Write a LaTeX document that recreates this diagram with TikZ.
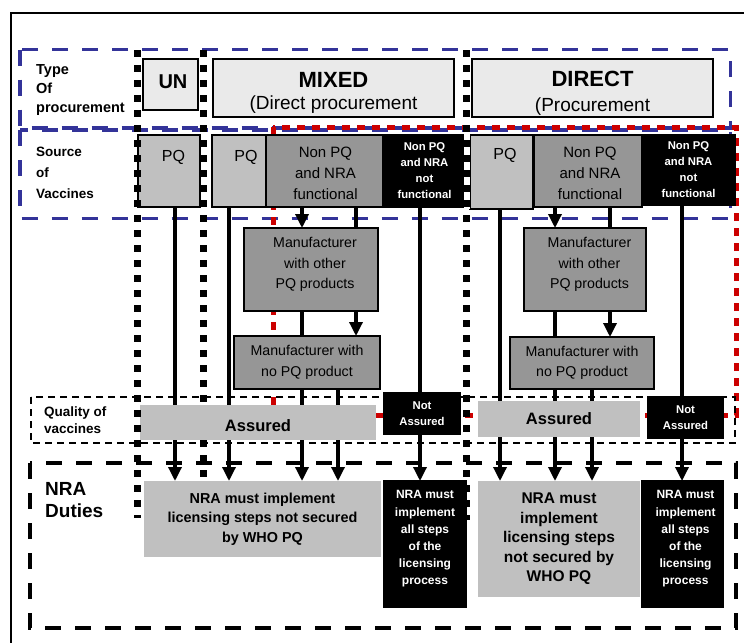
\documentclass[tikz,border=0pt]{standalone}
\usepackage{fontspec}
\setmainfont{Liberation Sans}
\usetikzlibrary{arrows.meta,positioning,backgrounds}
\definecolor{boxlight}{HTML}{EAEAEA}
\definecolor{boxmid}{HTML}{C0C0C0}
\definecolor{boxdark}{HTML}{969696}
\definecolor{zoneblue}{HTML}{333399}
\definecolor{zonered}{HTML}{CC0000}
\tikzset{
    cell/.style={
           rectangle,
           draw=black, line width=1.8pt,
           anchor=north west,
           inner sep=0pt, outer sep=0pt,
           align=center,
           },
    typebox/.style={cell, fill=boxlight, line width=1.5pt},
    pqbox/.style={cell, fill=boxmid},
    nonpqbox/.style={cell, fill=boxdark, font=\fontsize{15}{21}\selectfont},
    blackbox/.style={cell, fill=black, text=white,
           font=\bfseries\fontsize{11.3}{16}\selectfont},
    mfbox/.style={cell, fill=boxdark, font=\fontsize{14.2}{20.5}\selectfont},
    assured/.style={cell, draw=none, fill=boxmid,
           font=\bfseries\fontsize{16.5}{18}\selectfont},
    nrabox/.style={cell, draw=none, fill=boxmid},
    celltext/.style={align=center, inner sep=0pt},
    rowlabel/.style={anchor=west, align=left, inner sep=0pt},
    pqtext/.style={anchor=north, inner sep=0pt, font=\fontsize{16}{18}\selectfont},
    flow/.style={line width=3.3pt, -{Triangle[width=13pt,length=14pt]}},
    bluezone/.style={draw=zoneblue, line width=3.3pt, dash pattern=on 16pt off 14pt},
    redzone/.style={draw=zonered, line width=5pt, dash pattern=on 8pt off 7pt},
    qualzone/.style={draw=black, line width=2pt, dash pattern=on 7pt off 5pt},
    nrazone/.style={draw=black, line width=4pt, dash pattern=on 16pt off 14pt},
    colsep/.style={line width=7pt, dash pattern=on 7pt off 8pt},
}

\begin{document}
\begin{tikzpicture}[x=1pt,y=-1pt]
\useasboundingbox (0,0) rectangle (744,643);

 % outer frame (runs off the right and bottom edge)
 \draw[line width=2pt] (744,13) -- (10.5,13) -- (10.5,643);

 % row labels
 \node[rowlabel, font=\bfseries\fontsize{14.5}{19}\selectfont] (lblType) at (36,90)
 {Type\\Of\\procurement};
 \node[rowlabel, font=\bfseries\fontsize{13.5}{21}\selectfont] (lblSource) at (36,173)
 {Source\\of\\Vaccines};
 \node[rowlabel, font=\bfseries\fontsize{13.5}{17}\selectfont] (lblQuality) at (44,420.5)
 {Quality of\\vaccines};
 \node[rowlabel, font=\bfseries\fontsize{19}{22}\selectfont] (lblNRA) at (45,500)
 {NRA\\Duties};

 % type of procurement
 \node[typebox, minimum width=55pt, minimum height=51pt,
 label={[celltext, xshift=2.5pt, yshift=3pt, font=\bfseries\fontsize{20}{22}\selectfont]center:UN}]
 (unType) at (143,59) {};
 \node[typebox, minimum width=241pt, minimum height=58pt,
 label={[celltext, yshift=-5pt, font=\fontsize{19}{22}\selectfont]center:{{\bfseries\fontsize{22}{22}\selectfont MIXED}\\(Direct procurement}}]
 (mixType) at (213,59) {};
 \node[typebox, minimum width=241pt, minimum height=58pt,
 label={[celltext, yshift=-5pt, font=\fontsize{19}{25}\selectfont]center:{{\bfseries\fontsize{22}{22}\selectfont DIRECT}\\(Procurement}}]
 (dirType) at (472,59) {};

 % source of vaccines
 \node[pqbox, minimum width=62pt, minimum height=72pt,
 label={[pqtext, xshift=4.5pt, yshift=-15pt]north:PQ}] (unPQ) at (138,135) {};
 \node[pqbox, minimum width=54pt, minimum height=72pt,
 label={[pqtext, xshift=7pt, yshift=-15pt]north:PQ}] (mixPQ) at (212,135) {};
 \node[nonpqbox, minimum width=117pt, minimum height=72pt,
 label={[celltext, xshift=1pt, yshift=-2pt, font=\fontsize{15}{21}\selectfont]center:{Non PQ\\and NRA\\functional}}]
 (mixNF) at (266,135) {};
 \node[blackbox, minimum width=83pt, minimum height=72pt] (mixNN) at (383,135)
 {Non PQ\\and NRA\\not\\functional};
 \node[pqbox, minimum width=63pt, minimum height=74pt,
 label={[pqtext, xshift=3.5pt, yshift=-13pt]north:PQ}] (dirPQ) at (470,135) {};
 \node[nonpqbox, minimum width=108pt, minimum height=72pt,
 label={[celltext, xshift=2pt, yshift=-2pt, font=\fontsize{15}{21}\selectfont]center:{Non PQ\\and NRA\\functional}}]
 (dirNF) at (534,135) {};
 \node[blackbox, minimum width=93pt, minimum height=70pt] (dirNN) at (642,135)
 {Non PQ\\and NRA\\not\\functional};

 % manufacturers
 \node[mfbox, minimum width=134pt, minimum height=83pt,
 label={[celltext, xshift=4pt, yshift=5pt, font=\fontsize{14.2}{20.5}\selectfont]center:{Manufacturer\\with other\\PQ products}}]
 (mixM1) at (244,228) {};
 \node[mfbox, minimum width=146pt, minimum height=53pt] (mixM2) at (234,336)
 {Manufacturer with\\no PQ product};
 \node[mfbox, minimum width=122pt, minimum height=83pt,
 label={[celltext, xshift=4.5pt, yshift=5pt, font=\fontsize{14.2}{20.5}\selectfont]center:{Manufacturer\\with other\\PQ products}}]
 (dirM1) at (524,228) {};
 \node[mfbox, minimum width=144pt, minimum height=52pt] (dirM2) at (510,337)
 {Manufacturer with\\no PQ product};

 % quality of vaccines
 \node[assured, minimum width=236pt, minimum height=35pt,
 label={[celltext, yshift=-3.5pt, font=\bfseries\fontsize{16.5}{18}\selectfont]center:Assured}]
 (mixAS) at (140,405) {};
 \node[blackbox, minimum width=76pt, minimum height=41pt] (mixNA) at (384,393) {Not\\Assured};
 \node[assured, minimum width=162pt, minimum height=36pt] (dirAS) at (478,401) {Assured};
 \node[blackbox, minimum width=75pt, minimum height=41pt] (dirNA) at (648,397) {Not\\Assured};

 % NRA duties
 \node[nrabox, minimum width=237pt, minimum height=76pt,
 font=\bfseries\fontsize{14.4}{19.5}\selectfont] (mixNRA) at (144,481)
 {NRA must implement\\licensing steps not secured\\by WHO PQ};
 \node[blackbox, minimum width=82pt, minimum height=126pt,
 label={[celltext, yshift=5pt, text=white, font=\bfseries\fontsize{12}{17.2}\selectfont]center:{NRA must\\implement\\all steps\\of the\\licensing\\process}}]
 (mixNB) at (384,481) {};
 \node[nrabox, minimum width=162pt, minimum height=116pt,
 font=\bfseries\fontsize{15.5}{19.5}\selectfont] (dirNRA) at (478,481)
 {NRA must\\implement\\licensing steps\\not secured by\\WHO PQ};
 \node[blackbox, minimum width=81pt, minimum height=126pt,
 label={[celltext, xshift=3pt, yshift=5pt, text=white, font=\bfseries\fontsize{12}{17.2}\selectfont]center:{NRA must\\implement\\all steps\\of the\\licensing\\process}}]
 (dirNB) at (642,481) {};

 \begin{pgfonlayer}{background}
  % dashed zones
  \draw[bluezone] (20,49.5) rectangle (730.5,128);
  \draw[bluezone] (20,130) rectangle (730.5,218.5);
  \draw[redzone] (273,127) rectangle (736,415);
  \draw[qualzone] (31,397) rectangle (735,443);
  \draw[nrazone] (30,463) rectangle (736,628);
  \draw[colsep] (203,50) -- (203,480);

  % flows, partly hidden behind the boxes
  \draw[flow] ([xshift=6pt]unPQ.south) -- ([xshift=6pt]unPQ.south |- mixNRA.north);
  \draw[flow] ([xshift=-10pt]mixPQ.south) -- ([xshift=-10pt]mixPQ.south |- mixNRA.north);
  \draw[flow] ([xshift=-22.5pt]mixNF.south) -- ([xshift=-22.5pt]mixNF.south |- mixM1.north);
  \draw[flow] ([xshift=31.5pt]mixNF.south) -- ([xshift=31.5pt]mixNF.south |- mixM2.north);
  \draw[flow] ([xshift=-9pt]mixM1.south) -- ([xshift=-9pt]mixM1.south |- mixNRA.north);
  \draw[flow] ([xshift=31pt]mixM2.south) -- ([xshift=31pt]mixM2.south |- mixNRA.north);
  \draw[flow] ([xshift=-4.5pt]mixNN.south) -- ([xshift=-4.5pt]mixNN.south |- mixNB.north);
  \draw[flow] ([xshift=-1.5pt]dirPQ.south) -- ([xshift=-1.5pt]dirPQ.south |- dirNRA.north);
  \draw[flow] ([xshift=-33pt]dirNF.south) -- ([xshift=-33pt]dirNF.south |- dirM1.north);
  \draw[flow] ([xshift=22pt]dirNF.south) -- ([xshift=22pt]dirNF.south |- dirM2.north);
  \draw[flow] ([xshift=-30pt]dirM1.south) -- ([xshift=-30pt]dirM1.south |- dirNRA.north);
  \draw[flow] ([xshift=10pt]dirM2.south) -- ([xshift=10pt]dirM2.south |- dirNRA.north);
  \draw[flow] ([xshift=-6.5pt]dirNN.south) -- ([xshift=-6.5pt]dirNN.south |- dirNB.north);
 \end{pgfonlayer}

 % column separators on top
 \draw[colsep] (137,50) -- (137,518);
 \draw[white, line width=6pt] (466.5,131) -- (466.5,209);
 \draw[colsep] (466.5,50) -- (466.5,520);
\end{tikzpicture}
\end{document}
